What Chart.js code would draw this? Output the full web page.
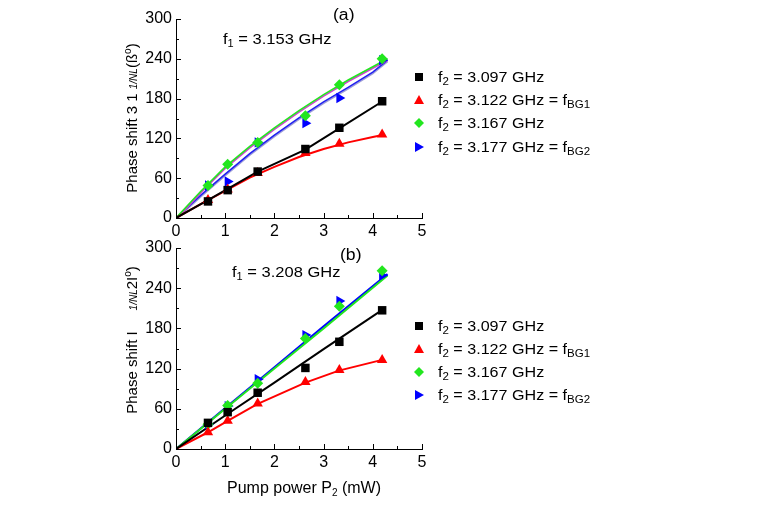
<!DOCTYPE html>
<html>
<head>
<meta charset="utf-8">
<script src="https://cdn.jsdelivr.net/npm/chart.js@4.4.1/dist/chart.umd.min.js"></script>
<style>
  body { margin: 0; background: #fff; font-family: "Liberation Sans", Arial, sans-serif; }
  #fig { position: relative; width: 779px; height: 520px; overflow: hidden; }
  canvas { position: absolute; }
  .txt { position: absolute; font-size: 15px; color: #000; white-space: nowrap; line-height: 1; transform-origin: left center; transform: scaleX(1.1); }
  .ytitle { position: absolute; font-size: 15px; white-space: nowrap; transform: translate(-50%, -50%) rotate(-90deg); line-height: 1; }
  .small { font-size: 10px; font-style: italic; }
  .leg { position: absolute; font-size: 14px; white-space: nowrap; line-height: 1; }
  .leg span.t { display: inline-block; transform-origin: left center; transform: scaleX(1.15); }
  .leg svg { position: absolute; left: -25px; top: 1px; }
  sub { font-size: 10px; vertical-align: -3px; line-height: 0; }
  sup { font-size: 10px; vertical-align: 6px; line-height: 0; }
  #xtitle { position: absolute; left: 227px; top: 480px; width: 158px; font-size: 16px; white-space: nowrap; line-height: 1; }
</style>
</head>
<body>
<div id="fig">
  <canvas id="chartA" width="340" height="245" style="left:100px; top:0px;"></canvas>
  <canvas id="chartB" width="340" height="255" style="left:100px; top:229px;"></canvas>

  <div class="txt" style="left:333px; top:7px; font-size:16px;">(a)</div>
  <div class="txt" style="left:223px; top:31px;">f<sub>1</sub> = 3.153 GHz</div>
  <div class="txt" style="left:340px; top:247px; font-size:16px;">(b)</div>
  <div class="txt" style="left:232px; top:264px;">f<sub>1</sub> = 3.208 GHz</div>

  <div class="ytitle" style="left:131px; top:118px;">Phase shift 3 1 <span class="small">1/NL</span>(ß<sup>o</sup>)</div>
  <div class="ytitle" style="left:131px; top:340px;">Phase shift I &nbsp; &nbsp; <span class="small">1/NL</span>2I<sup>o</sup>)</div>

  <div id="xtitle">Pump power P<sub>2</sub> (mW)</div>

  <div id="legA"></div>
  <div id="legB"></div>
</div>

<script>
// measured pump powers (mW)
const powers = [0.65, 1.05, 1.66, 2.63, 3.32, 4.19];

// panel (a), f1 = 3.153 GHz : measured phase shift (deg)
const a3097 = [25, 42, 70, 104, 136, 176];
const a3122 = [27, 43, 68, 98, 112, 126];
const a3167 = [49, 81, 114, 154, 201, 240];
const a3177 = [49, 55, 114, 143, 181, 238];

// panel (a) fitted curves
const aFitBlackX = [0, 0.65, 1.05, 1.66, 2.63, 3.32, 4.2];
const aFitBlackY = [0, 27, 44, 70, 103, 135, 176];
const aFitRedX = [0, 0.5, 1, 1.5, 2, 2.5, 3, 3.5, 4, 4.2];
const aFitRedY = [0, 21, 41, 61, 77, 92, 104, 114, 122, 125];
const aFitGreenX = [0, 0.5, 1, 1.5, 2, 2.5, 3, 3.5, 4, 4.3];
const aFitGreenY = [0, 40, 77, 108, 136, 162, 186, 208, 228, 240];
const aFitBlueX = [0, 0.5, 1, 1.5, 2, 2.5, 3, 3.5, 4, 4.3];
const aFitBlueY = [0, 34, 66, 97, 125, 151, 175, 197, 220, 238];

// panel (b), f1 = 3.208 GHz : measured phase shift (deg)
const b3097 = [39, 55, 84, 121, 160, 207];
const b3122 = [25, 42, 68, 100, 118, 133];
const b3167 = [37, 65, 98, 165, 213, 266];
const b3177 = [37, 64, 104, 170, 221, 259];

// panel (b) fitted curves
const bFitBlackX = [0, 1, 2, 3, 4.2];
const bFitBlackY = [0, 50, 99, 149, 208];
const bFitRedX = [0, 0.65, 1.05, 1.65, 2.63, 3.31, 4.19];
const bFitRedY = [0, 25, 42, 67, 99, 117, 133];
const bFitGreenX = [0, 1, 2, 3, 4.3];
const bFitGreenY = [0, 60, 120, 180, 259];
const bFitBlueX = [0, 1, 2, 3, 4.3];
const bFitBlueY = [0, 61, 122, 183, 261];

const xTicks = [0, 1, 2, 3, 4, 5];
const yTicks = [0, 60, 120, 180, 240, 300];

const legendLabels = [
  'f<sub>2</sub> = 3.097 GHz',
  'f<sub>2</sub> = 3.122 GHz = f<sub>BG1</sub>',
  'f<sub>2</sub> = 3.167 GHz',
  'f<sub>2</sub> = 3.177 GHz = f<sub>BG2</sub>'
];

const BLACK = '#000000', RED = '#ff0000', GREEN = '#22e61e', BLUE = '#0000ff';

function pts(xs, ys) {
  return xs.map(function (x, i) { return { x: x, y: ys[i] }; });
}

function markerSet(data, color, style, radius, rotation) {
  return {
    data: pts(powers, data),
    backgroundColor: color,
    borderColor: color,
    borderWidth: 0,
    pointStyle: style,
    pointRadius: radius,
    rotation: rotation || 0,
    showLine: false,
    order: 0
  };
}

function fitSet(xs, ys, color, width, shadow) {
  return {
    data: pts(xs, ys),
    borderColor: color,
    borderWidth: width,
    pointRadius: 0,
    showLine: true,
    fill: false,
    order: 1,
    shadow: shadow || null
  };
}

// inward major + minor tick marks
const inwardTicks = {
  id: 'inwardTicks',
  afterDraw: function (chart) {
    const ctx = chart.ctx, x = chart.scales.x, y = chart.scales.y;
    const area = chart.chartArea;
    ctx.save();
    ctx.strokeStyle = '#000';
    ctx.lineWidth = 1;
    ctx.beginPath();
    for (let v = 0; v <= 5.001; v += 0.5) {
      const px = Math.round(x.getPixelForValue(v)) + 0.5;
      const len = Math.abs(v - Math.round(v)) < 1e-6 ? 5 : 3;
      ctx.moveTo(px, area.bottom);
      ctx.lineTo(px, area.bottom - len);
    }
    for (let v = 0; v <= 300; v += 30) {
      const py = Math.round(y.getPixelForValue(v)) + 0.5;
      const len = v % 60 === 0 ? 5 : 3;
      ctx.moveTo(area.left, py);
      ctx.lineTo(area.left + len, py);
    }
    ctx.stroke();
    ctx.restore();
  }
};

// thin coloured shadow alongside some fit curves
const lineShadow = {
  id: 'lineShadow',
  beforeDatasetDraw: function (chart, args) {
    const sh = args.meta._dataset.shadow;
    if (sh) {
      chart.ctx.save();
      chart.ctx.shadowColor = sh;
      chart.ctx.shadowOffsetY = 1.5;
      chart.ctx.shadowBlur = 0;
    }
  },
  afterDatasetDraw: function (chart, args) {
    if (args.meta._dataset.shadow) chart.ctx.restore();
  }
};

function makeChart(id, datasets, bottomPad) {
  return new Chart(document.getElementById(id), {
    type: 'scatter',
    data: { datasets: datasets },
    plugins: [inwardTicks, lineShadow],
    options: {
      responsive: false,
      animation: false,
      layout: { padding: { top: 19, right: 18, left: 0, bottom: bottomPad } },
      plugins: { legend: { display: false }, tooltip: { enabled: false } },
      scales: {
        x: {
          type: 'linear', min: 0, max: 5,
          afterBuildTicks: function (s) { s.ticks = xTicks.map(function (v) { return { value: v }; }); },
          afterFit: function (s) { s.height = 27; },
          grid: { display: false, drawTicks: false, tickLength: 0 },
          border: { display: true, color: '#000', width: 1 },
          ticks: { color: '#000', padding: 4, font: { family: 'Liberation Sans, Arial', size: 16 } }
        },
        y: {
          type: 'linear', min: 0, max: 300,
          afterBuildTicks: function (s) { s.ticks = yTicks.map(function (v) { return { value: v }; }); },
          afterFit: function (s) { s.width = 76; },
          grid: { display: false, drawTicks: false, tickLength: 0 },
          border: { display: true, color: '#000', width: 1 },
          ticks: { color: '#000', padding: 4, font: { family: 'Liberation Sans, Arial', size: 16 } }
        }
      }
    }
  });
}

makeChart('chartA', [
  markerSet(a3097, BLACK, 'rect', 6),
  markerSet(a3122, RED, 'triangle', 6),
  markerSet(a3167, GREEN, 'rectRot', 5.5),
  markerSet(a3177, BLUE, 'triangle', 6, 90),
  fitSet(aFitBlackX, aFitBlackY, BLACK, 2),
  fitSet(aFitRedX, aFitRedY, RED, 2),
  fitSet(aFitGreenX, aFitGreenY, GREEN, 1.6, '#d040d0'),
  fitSet(aFitBlueX, aFitBlueY, '#2020f0', 1.6, '#a0a0d8')
], 0);

makeChart('chartB', [
  markerSet(b3097, BLACK, 'rect', 6),
  markerSet(b3122, RED, 'triangle', 6),
  markerSet(b3167, GREEN, 'rectRot', 5.5),
  markerSet(b3177, BLUE, 'triangle', 6, 90),
  fitSet(bFitBlackX, bFitBlackY, BLACK, 2),
  fitSet(bFitRedX, bFitRedY, RED, 2),
  fitSet(bFitGreenX, bFitGreenY, GREEN, 2),
  fitSet(bFitBlueX, bFitBlueY, BLUE, 2)
], 8);

// HTML legends (subscripts need mixed font sizes)
const markerSvg = [
  '<svg width="12" height="12"><rect x="2" y="2" width="8" height="8" fill="#000"/></svg>',
  '<svg width="12" height="12"><polygon points="6,1 11,10 1,10" fill="#ff0000"/></svg>',
  '<svg width="12" height="12"><polygon points="6,1 11,6 6,11 1,6" fill="#22e61e"/></svg>',
  '<svg width="12" height="12"><polygon points="2,1 11,6 2,11" fill="#0000ff"/></svg>'
];
function buildLegend(id, left, tops) {
  const el = document.getElementById(id);
  legendLabels.forEach(function (lbl, i) {
    const d = document.createElement('div');
    d.className = 'leg';
    d.style.left = left + 'px';
    d.style.top = tops[i] + 'px';
    d.innerHTML = markerSvg[i] + '<span class="t">' + lbl + '</span>';
    el.appendChild(d);
  });
}
buildLegend('legA', 438, [70, 93, 116, 140]);
buildLegend('legB', 438, [319, 342, 365, 388]);
</script>
</body>
</html>
